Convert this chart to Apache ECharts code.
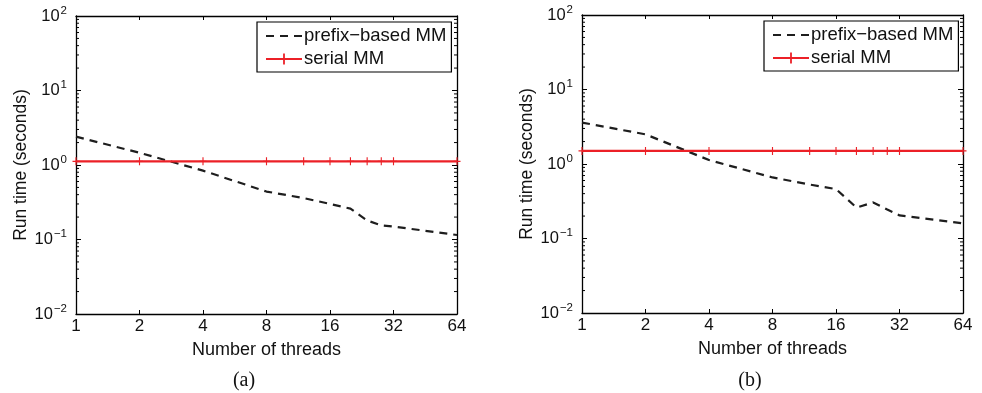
<!DOCTYPE html>
<html>
<head>
<meta charset="utf-8">
<script src="https://cdn.jsdelivr.net/npm/echarts@6/dist/echarts.min.js"></script>
<style>
  html, body { margin: 0; padding: 0; background: #fff; }
  #chart { width: 982px; height: 393px; }
</style>
</head>
<body>
<div id="chart"></div>
<script>
// thread counts sampled in both experiments
const threads = [1, 2, 4, 8, 12, 16, 20, 24, 28, 32, 64];

// (a) run times in seconds
const prefixA = [2.4, 1.46, 0.84, 0.44, 0.36, 0.30, 0.26, 0.18, 0.155, 0.149, 0.115];
const serialA = [1.12, 1.12, 1.12, 1.12, 1.12, 1.12, 1.12, 1.12, 1.12, 1.12, 1.12];

// (b) run times in seconds
const prefixB = [3.6, 2.5, 1.13, 0.66, 0.53, 0.46, 0.26, 0.305, 0.245, 0.204, 0.16];
const serialB = [1.5, 1.5, 1.5, 1.5, 1.5, 1.5, 1.5, 1.5, 1.5, 1.5, 1.5];

const seriesNames = ["prefix\u2212based MM", "serial MM"];
const captions = ["(a)", "(b)"];

// log minor ticks 2..9 per decade on the y axis
const minorY = [];
[0.01, 0.1, 1, 10].forEach((d) => {
  for (let k = 2; k <= 9; k++) minorY.push(+(k * d).toPrecision(3));
});

const RED = "#ec2027";
const DARK = "#1e1e1e";
const FONT = "Liberation Sans";
const PLUS = "path://M4.2,0H5.8V4.3H10V5.7H5.8V10H4.2V5.7H0V4.3H4.2Z";

const grids = [
  { left: 76, top: 16, width: 381, height: 298 },
  { left: 582, top: 15, width: 381, height: 298 },
];
const legendPos = [
  { left: 257, top: 22 },
  { left: 764, top: 21 },
];
const captionX = [239, 745];

function supLabel(v) {
  const e = Math.round(Math.log10(v));
  return "10{sup|" + (e < 0 ? "\u2212" + -e : e) + "}";
}

const xAxis = [];
const yAxis = [];
const series = [];
const legend = [];
const title = [];

grids.forEach((g, i) => {
  const axisLine = { show: true, onZero: false, lineStyle: { color: "#000", width: 1.3 } };
  xAxis.push({
    type: "log", logBase: 2, gridIndex: i, min: 1, max: 64, splitNumber: 6,
    axisLine, splitLine: { show: false },
    axisTick: { inside: true, length: 4, lineStyle: { color: "#000" } },
    axisLabel: { color: "#111", fontFamily: FONT, fontSize: 17, margin: 4 },
    name: "Number of threads", nameLocation: "middle", nameGap: 27,
    nameTextStyle: { color: "#111", fontFamily: FONT, fontSize: 18 },
  });
  xAxis.push({
    type: "log", logBase: 2, gridIndex: i, min: 1, max: 64, splitNumber: 6, position: "top",
    axisLine, splitLine: { show: false },
    axisTick: { inside: true, length: 4, lineStyle: { color: "#000" } },
    axisLabel: { show: false },
  });
  yAxis.push({
    type: "log", logBase: 10, gridIndex: i, min: 0.01, max: 100,
    axisLine, splitLine: { show: false },
    axisTick: { inside: true, length: 5, lineStyle: { color: "#000" } },
    axisLabel: {
      color: "#111", fontFamily: FONT, fontSize: 16.5, margin: 9,
      formatter: supLabel,
      rich: { sup: { fontSize: 11.5, fontFamily: FONT, color: "#111", padding: [0, 0, 11, 1] } },
    },
    name: "Run time (seconds)", nameLocation: "middle", nameGap: 43,
    nameTextStyle: { color: "#111", fontFamily: FONT, fontSize: 17.5 },
  });
  yAxis.push({
    type: "log", logBase: 10, gridIndex: i, min: 0.01, max: 100, position: "right",
    axisLine, splitLine: { show: false },
    axisTick: { inside: true, length: 5, lineStyle: { color: "#000" } },
    axisLabel: { show: false },
  });

  const prefix = i === 0 ? prefixA : prefixB;
  const serial = i === 0 ? serialA : serialB;

  series.push({
    name: seriesNames[0], type: "line", xAxisIndex: 2 * i, yAxisIndex: 2 * i,
    data: threads.map((t, j) => [t, prefix[j]]),
    symbol: "circle", showSymbol: false, color: DARK,
    itemStyle: { color: DARK, opacity: 0 },
    lineStyle: { color: DARK, width: 2.2, type: [8, 6], opacity: 1 },
    z: 3,
  });
  series.push({
    name: seriesNames[1], type: "line", xAxisIndex: 2 * i, yAxisIndex: 2 * i,
    data: threads.map((t, j) => [t, serial[j]]),
    symbol: PLUS, symbolSize: [7, 8], color: RED,
    itemStyle: { color: RED },
    lineStyle: { color: RED, width: 2.4 },
    z: 4,
  });
  series.push({
    type: "custom", xAxisIndex: 2 * i, yAxisIndex: 2 * i, silent: true, clip: false,
    data: minorY.map((v) => [1, v]),
    renderItem: (params, api) => {
      const v = api.value(1);
      const l = api.coord([1, v]);
      const r = api.coord([64, v]);
      const style = { stroke: "#000", lineWidth: 1 };
      return {
        type: "group",
        children: [
          { type: "line", shape: { x1: l[0], y1: l[1], x2: l[0] + 3, y2: l[1] }, style },
          { type: "line", shape: { x1: r[0] - 3, y1: r[1], x2: r[0], y2: r[1] }, style },
        ],
      };
    },
    z: 5,
  });

  legend.push({
    orient: "vertical",
    left: legendPos[i].left, top: legendPos[i].top,
    data: seriesNames,
    backgroundColor: "#fff", borderColor: "#000", borderWidth: 1.2, borderRadius: 0,
    padding: [4, 5, 3, 8],
    itemWidth: 36, itemHeight: 14, itemGap: 3,
    textStyle: { color: "#111", fontFamily: FONT, fontSize: 18.5, lineHeight: 20, padding: [0, 0, 0, -3] },
    selectedMode: false,
  });

  title.push({
    text: captions[i],
    left: captionX[i],
    top: 366,
    textAlign: "center",
    textStyle: { fontFamily: "Liberation Serif", fontSize: 20, fontWeight: "normal", color: "#111" },
  });
});

const chart = echarts.init(document.getElementById("chart"), null, { renderer: "canvas" });
chart.setOption({
  animation: false,
  backgroundColor: "#fff",
  grid: grids,
  xAxis, yAxis, series, legend, title,
});
</script>
</body>
</html>
